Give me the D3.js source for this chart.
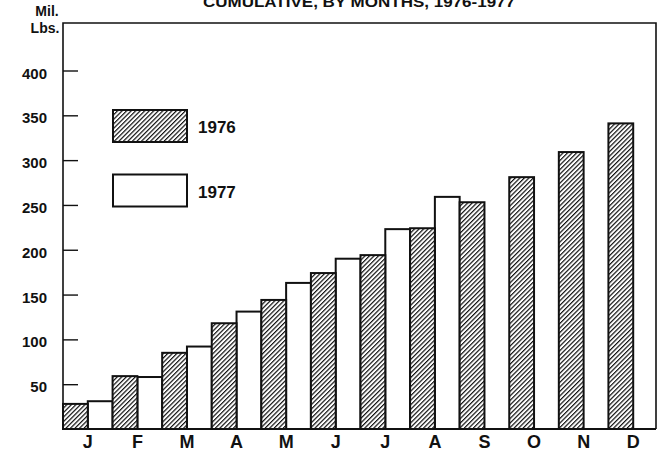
<!DOCTYPE html>
<html>
<head>
<meta charset="utf-8">
<script src="https://cdn.jsdelivr.net/npm/d3@7"></script>
<style>
  body { margin: 0; background: #fff; }
  svg { display: block; }
  text { font-family: 'Liberation Sans', Arial, sans-serif; font-weight: bold; fill: #111; }
</style>
</head>
<body>
<div id="chart"></div>
<script>
const months = ['J', 'F', 'M', 'A', 'M ', 'J ', 'J  ', 'A ', 'S', 'O', 'N', 'D']
const years = ['1976', '1977']
const values1976 = [28, 59, 85, 118, 144, 174, 194, 224, 253, 281, 309, 341]
const values1977 = [31, 58, 92, 131, 163, 190, 223, 259]
const yTicks = [50, 100, 150, 200, 250, 300, 350, 400]
const title = 'CUMULATIVE, BY MONTHS, 1976-1977'

const width = 661
const height = 457
const plotLeft = 63, plotRight = 656, plotTop = 23, plotBottom = 429

let svg = d3.select('#chart').append('svg')
  .attr('width', width)
  .attr('height', height)

// diagonal hatching for 1976
svg.append('defs')
  .append('pattern')
  .attr('id', 'hatch')
  .attr('patternUnits', 'userSpaceOnUse')
  .attr('width', 3.2)
  .attr('height', 3.2)
  .attr('patternTransform', 'rotate(45)')
  .call(p => {
    p.append('rect').attr('width', 3.2).attr('height', 3.2).attr('fill', '#fff')
    p.append('line').attr('x1', 0.6).attr('y1', 0).attr('x2', 0.6).attr('y2', 3.2)
      .attr('stroke', '#111').attr('stroke-width', 1.2)
  })

let x = d3.scaleBand().domain(months).range([plotLeft, 658]).padding(0)
let xInner = d3.scaleBand().domain(years).range([0, x.bandwidth()])
let y = d3.scaleLinear().domain([0, 453]).range([plotBottom, plotTop])

let series = [
  { year: '1977', values: values1977, fill: '#fff' },
  { year: '1976', values: values1976, fill: 'url(#hatch)' }
]

series.forEach(s => {
  svg.append('g')
    .selectAll('rect')
    .data(s.values)
    .enter()
    .append('rect')
    .attr('x', (d, i) => x(months[i]) + xInner(s.year))
    .attr('y', d => y(d))
    .attr('width', xInner.bandwidth())
    .attr('height', d => y(0) - y(d))
    .attr('fill', s.fill)
    .attr('stroke', '#111')
    .attr('stroke-width', 2)
})

// frame: left axis, top, right, baseline
svg.append('path')
  .attr('d', `M${plotLeft},${plotBottom}V${plotTop}H${plotRight}V${plotBottom}`)
  .attr('fill', 'none')
  .attr('stroke', '#111')
  .attr('stroke-width', 1.6)
svg.append('line')
  .attr('x1', plotLeft).attr('x2', plotRight)
  .attr('y1', plotBottom).attr('y2', plotBottom)
  .attr('stroke', '#111')
  .attr('stroke-width', 2)

let yAxis = svg.append('g')
  .attr('transform', `translate(${plotLeft},0)`)
  .call(d3.axisLeft(y).tickValues(yTicks).tickSize(-15).tickPadding(16))
yAxis.select('.domain').remove()
yAxis.selectAll('line').attr('stroke', '#111').attr('stroke-width', 1.4)
yAxis.selectAll('text')
  .attr('dy', '0.5em')
  .style('font-size', '15px')
  .style('font-family', "'Liberation Sans', Arial, sans-serif")
  .style('font-weight', 'bold')
  .attr('fill', '#111')

let xAxis = svg.append('g')
  .attr('transform', `translate(0,${plotBottom})`)
  .call(d3.axisBottom(x).tickSize(0).tickPadding(6).tickFormat(d => d.trim()))
xAxis.select('.domain').remove()
xAxis.selectAll('text')
  .attr('dy', '0.71em')
  .style('font-size', '18px')
  .style('font-family', "'Liberation Sans', Arial, sans-serif")
  .style('font-weight', 'bold')
  .attr('fill', '#111')

// unit label
svg.append('text').attr('x', 47).attr('y', 16).attr('text-anchor', 'middle')
  .style('font-size', '14px').text('Mil.')
svg.append('text').attr('x', 45).attr('y', 33).attr('text-anchor', 'middle')
  .style('font-size', '14px').text('Lbs.')

// title, cut by the top edge as in the scan
svg.append('text').attr('x', 359).attr('y', 7).attr('text-anchor', 'middle')
  .attr('textLength', 312).attr('lengthAdjust', 'spacingAndGlyphs')
  .style('font-size', '15px').text(title)

// legend
let legend = svg.append('g')
  .selectAll('g')
  .data(series.slice().reverse())
  .enter()
  .append('g')
  .attr('transform', (d, i) => `translate(113, ${110 + i * 64.5})`)

legend.append('rect')
  .attr('width', 74)
  .attr('height', 32)
  .attr('fill', d => d.fill)
  .attr('stroke', '#111')
  .attr('stroke-width', 2)

legend.append('text')
  .attr('x', 85)
  .attr('y', 23)
  .style('font-size', '17px')
  .text(d => d.year)
</script>
</body>
</html>
